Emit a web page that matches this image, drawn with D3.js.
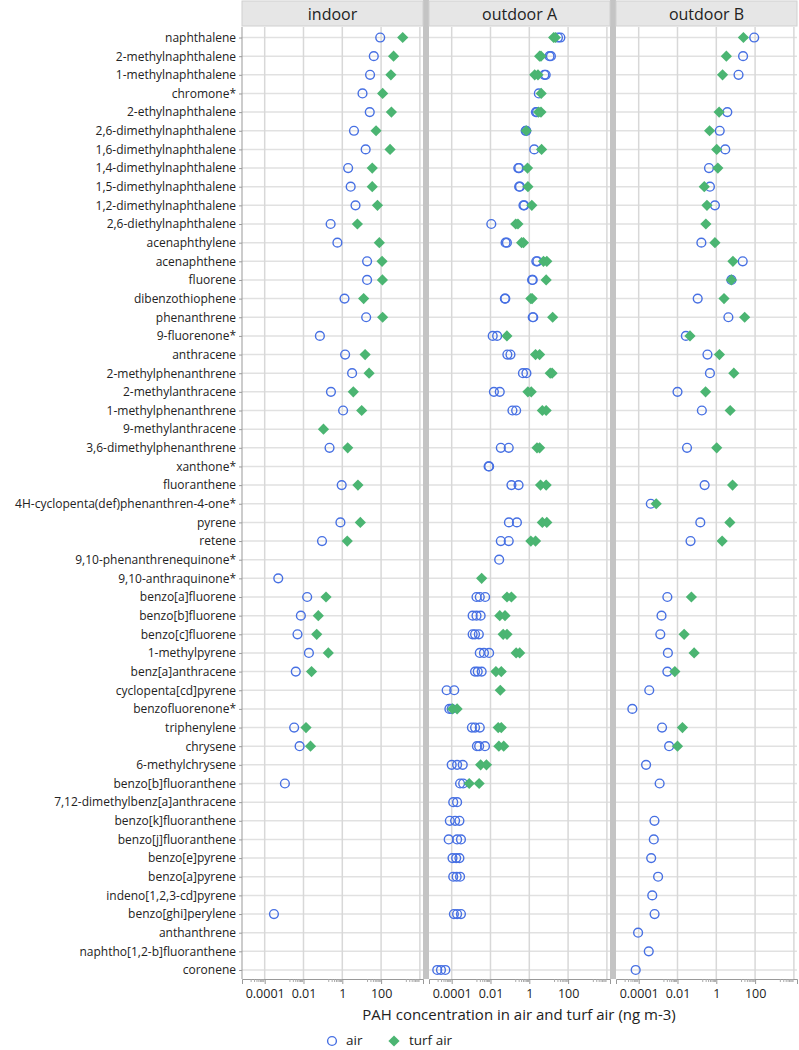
<!DOCTYPE html>
<html><head><meta charset="utf-8">
<script src="https://cdn.jsdelivr.net/npm/d3@7"></script>
<style>body{margin:0;background:#fff}svg{display:block}text{font-family:"Open Sans","Noto Sans",sans-serif}</style>
</head><body>
<script>
const categories = ["naphthalene","2-methylnaphthalene","1-methylnaphthalene","chromone*","2-ethylnaphthalene","2,6-dimethylnaphthalene","1,6-dimethylnaphthalene","1,4-dimethylnaphthalene","1,5-dimethylnaphthalene","1,2-dimethylnaphthalene","2,6-diethylnaphthalene","acenaphthylene","acenaphthene","fluorene","dibenzothiophene","phenanthrene","9-fluorenone*","anthracene","2-methylphenanthrene","2-methylanthracene","1-methylphenanthrene","9-methylanthracene","3,6-dimethylphenanthrene","xanthone*","fluoranthene","4H-cyclopenta(def)phenanthren-4-one*","pyrene","retene","9,10-phenanthrenequinone*","9,10-anthraquinone*","benzo[a]fluorene","benzo[b]fluorene","benzo[c]fluorene","1-methylpyrene","benz[a]anthracene","cyclopenta[cd]pyrene","benzofluorenone*","triphenylene","chrysene","6-methylchrysene","benzo[b]fluoranthene","7,12-dimethylbenz[a]anthracene","benzo[k]fluoranthene","benzo[j]fluoranthene","benzo[e]pyrene","benzo[a]pyrene","indeno[1,2,3-cd]pyrene","benzo[ghi]perylene","anthanthrene","naphtho[1,2-b]fluoranthene","coronene"];
const panels = ["indoor","outdoor A","outdoor B"];
const seriesNames = ["air","turf air"];
const tickValues = [1e-4, 1e-2, 1, 100];
const tickLabels = ["0.0001","0.01","1","100"];
const gridValues = [1e-4, 1e-2, 1, 100, 1e4];

const indoorAir = [90,42,27,11,26,4,16,2,2.7,4.8,0.25,0.56,19,19,1.3,17,0.07,1.4,3.2,0.26,1.1,null,0.22,null,0.93,null,0.8,0.09,null,0.0005,0.0155,0.0073,0.0049,0.019,0.004,null,null,0.0033,0.0063,null,0.0011,null,null,null,null,null,null,0.0003,null,null,null];
const indoorTurf = [1300,440,320,120,340,55,290,35,35,65,6,81,112,117,12.6,120,null,15,24,3.7,10,0.107,1.9,null,6.4,null,8.5,1.8,null,null,0.145,0.058,0.048,0.19,0.026,null,null,0.0135,0.023,null,null,null,null,null,null,null,null,null,null,null,null];

const outdoorAAir = [[30,40],[11,13],[6,7],[3.1],[2.2,2.5],[0.65,0.7],[1.8],[0.27,0.3],[0.3,0.33],[0.5,0.55],[0.011],[0.06,0.07],[2.3,2.6],[1.4,1.5],[0.055,0.058],[1.5,1.6],[0.013,0.022],[0.074,0.107],[0.47,0.71],[0.015,0.03],[0.135,0.21],[],[0.034,0.087],[0.008,0.0085],[0.12,0.28],[],[0.089,0.23],[0.034,0.087],[0.028],[],[0.0019,0.0028,0.0053],[0.0012,0.0019,0.0031],[0.0012,0.0016,0.0025],[0.0028,0.0046,0.0085],[0.0016,0.0022,0.0035],[0.000055,0.000135],[0.000076,0.0001],[0.0011,0.0016,0.0028],[0.002,0.0026,0.0052],[0.0001,0.00019,0.00037],[0.00027,0.00039],[0.00012,0.00019],[0.00008,0.00015,0.00025],[0.00007,0.00019,0.0003],[0.00011,0.00017,0.00025],[0.00012,0.00018,0.00027],[],[0.00013,0.00019,0.0003],[],[],[0.000018,0.000028,0.000047]];
const outdoorATurf = [[18,22],[3.4,4],[1.9,2.8],[4.1],[3,4],[0.7],[4.3],[0.81],[0.85],[1.35],[0.2,0.26],[0.4,0.5],[5.4,8],[7.4],[1.2,1.4],[16],[0.07],[2.1,3.4],[12,15],[0.85,1.26],[4.7,7.4],[],[2.5,3.4],[],[3.8,7.4],[],[4.7,8],[1.2,2.1],[],[0.0035],[0.071,0.12],[0.03,0.056],[0.045,0.071],[0.21,0.32],[0.019,0.036],[0.032],[0.00011,0.00019],[0.025,0.036],[0.027,0.048],[0.0031,0.0062],[0.0008,0.0026],[],[],[],[],[],[],[],[],[],[]];

const outdoorBAir = [90,24,14,null,3.7,1.5,2.9,0.42,0.47,0.85,null,0.17,23,6,0.11,4.2,0.027,0.35,0.47,0.01,0.18,null,0.031,null,0.25,0.00042,0.15,0.047,null,null,0.003,0.0015,0.0013,0.0032,0.003,0.00035,0.000047,0.0016,0.0037,0.00024,0.0012,null,0.00065,0.0006,0.00044,0.001,0.0005,0.00066,0.000093,0.00033,0.00007];
const outdoorBTurf = [25,3.3,2.1,null,1.4,0.45,1.05,1.2,0.24,0.33,0.29,0.85,7.2,6,2.5,29,0.044,1.45,8,0.28,5.2,null,1.05,null,6.9,0.0008,5,2.0,null,null,0.052,null,0.022,0.072,0.0073,null,null,0.018,0.01,null,null,null,null,null,null,null,null,null,null,null,null];

const W = 799, H = 1050;
const panelX = [242, 429, 616], panelW = 181;
const plotTop = 27, plotBottom = 979;
const blue = "#4770e3", green = "#4bb572";
const diamond = "M0,-5.6L5.6,0L0,5.6L-5.6,0Z";

const svg = d3.select("body").append("svg").attr("width", W).attr("height", H);
const y = d3.scalePoint().domain(categories).range([plotTop + 1.2, plotBottom + 0.3]).padding(0.5);
const x = d3.scaleLog().domain([Math.pow(10,-5.17), Math.pow(10,4.16)]).range([0, panelW]);

function toPoints(arr, series) {
  const pts = [];
  arr.forEach((v, i) => {
    const vals = Array.isArray(v) ? v : (v == null ? [] : [v]);
    vals.forEach(val => pts.push({cat: categories[i], value: val, series}));
  });
  return pts;
}
const panelData = [
  [...toPoints(indoorAir, "air"), ...toPoints(indoorTurf, "turf air")],
  [...toPoints(outdoorAAir, "air"), ...toPoints(outdoorATurf, "turf air")],
  [...toPoints(outdoorBAir, "air"), ...toPoints(outdoorBTurf, "turf air")]
];

svg.append("rect").attr("x", panelX[0]+panelW).attr("y", 0).attr("width", panelX[1]-panelX[0]-panelW).attr("height", plotBottom).attr("fill", "#c4c4c4");
svg.append("rect").attr("x", panelX[1]+panelW).attr("y", 0).attr("width", panelX[2]-panelX[1]-panelW).attr("height", plotBottom).attr("fill", "#c4c4c4");

panels.forEach((name, p) => {
  const g = svg.append("g").attr("transform", `translate(${panelX[p]},0)`);
  g.append("rect").attr("x", 0).attr("y", 1).attr("width", panelW).attr("height", 25).attr("fill", "#e6e6e6").attr("stroke", "#d0d0d0");
  g.append("text").attr("x", panelW/2).attr("y", 20).attr("text-anchor", "middle").attr("font-size", 16).attr("fill", "#222").text(name);
  g.selectAll(".hg").data(categories).join("line")
    .attr("x1", 0).attr("x2", panelW).attr("y1", d => y(d)).attr("y2", d => y(d))
    .attr("stroke", "#e1e1e1").attr("stroke-width", 1.5);
  g.selectAll(".vg").data(gridValues).join("line")
    .attr("x1", d => x(d)).attr("x2", d => x(d)).attr("y1", plotTop).attr("y2", plotBottom)
    .attr("stroke", "#d8d8d8").attr("stroke-width", 1.5);
  const ax = g.append("g").attr("transform", `translate(0,${plotBottom})`)
    .call(d3.axisBottom(x).tickValues(tickValues).tickFormat((d,i) => tickLabels[i]).tickSize(5).tickPadding(5));
  ax.select(".domain").attr("stroke", "#999");
  ax.selectAll(".tick line").attr("stroke", "#999");
  ax.selectAll("text").attr("font-size", 12.5).attr("fill", "#222").style("font-family", "'Open Sans',sans-serif");
  const minors = [];
  for (let e = -5; e <= 3; e += 2) for (let k = 2; k <= 9; k++) minors.push(k * Math.pow(10, e));
  g.selectAll(".mt").data(minors).join("line")
    .attr("x1", d => x(d)).attr("x2", d => x(d)).attr("y1", plotBottom).attr("y2", plotBottom + 3)
    .attr("stroke", "#aaa");
  const pts = panelData[p];
  g.selectAll(".air").data(pts.filter(d => d.series === "air")).join("circle")
    .attr("cx", d => x(d.value)).attr("cy", d => y(d.cat)).attr("r", 4.4)
    .attr("fill", "none").attr("stroke", blue).attr("stroke-width", 1.4);
  g.selectAll(".turf").data(pts.filter(d => d.series === "turf air")).join("path")
    .attr("d", diamond)
    .attr("transform", d => `translate(${x(d.value)},${y(d.cat)})`)
    .attr("fill", green);
});

svg.append("line").attr("x1", panelX[0]).attr("x2", panelX[0]).attr("y1", plotTop).attr("y2", plotBottom).attr("stroke", "#999");
const yax = svg.append("g").attr("transform", `translate(${panelX[0]},0)`)
  .call(d3.axisLeft(y).tickSize(3).tickPadding(3));
yax.select(".domain").remove();
yax.selectAll(".tick line").attr("stroke", "#999");
yax.selectAll("text").attr("font-size", 12).attr("fill", "#222").style("font-family", "'Open Sans',sans-serif");

svg.append("text").attr("x", 519).attr("y", 1020).attr("text-anchor", "middle").attr("font-size", 15).attr("fill", "#222")
  .text("PAH concentration in air and turf air (ng m-3)");

const lg = svg.append("g");
lg.append("circle").attr("cx", 332).attr("cy", 1041).attr("r", 4.4).attr("fill", "none").attr("stroke", blue).attr("stroke-width", 1.4);
lg.append("text").attr("x", 346).attr("y", 1045).attr("font-size", 13.5).attr("fill", "#222").text(seriesNames[0]);
lg.append("path").attr("d", diamond).attr("transform", "translate(394,1041)").attr("fill", green);
lg.append("text").attr("x", 409).attr("y", 1045).attr("font-size", 13.5).attr("fill", "#222").text(seriesNames[1]);
</script>
</body></html>
